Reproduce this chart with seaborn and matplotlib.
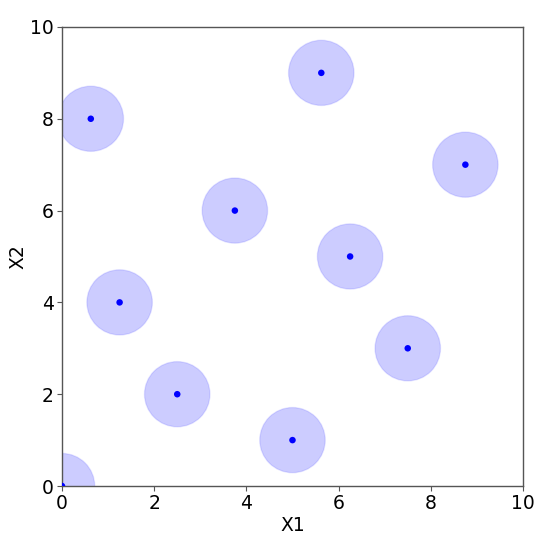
import matplotlib
matplotlib.use("Agg")
import matplotlib.pyplot as plt
import seaborn as sns
import pandas as pd
from matplotlib.patches import Circle

x1 = [0.0, 5.0, 2.5, 7.5, 1.25, 6.25, 3.75, 8.75, 0.625, 5.625]
x2 = [0, 1, 2, 3, 4, 5, 6, 7, 8, 9]
radius = 0.71

sns.set_style("white")
df = pd.DataFrame({"X1": x1, "X2": x2})

fig = plt.figure(figsize=(5.5, 5.39), dpi=100)
ax = fig.add_axes([0.1127, 0.0983, 0.8382, 0.8517])

for a, b in zip(x1, x2):
    ax.add_patch(Circle((a, b), radius, facecolor=(0, 0, 1, 0.2), edgecolor=(0, 0, 1, 0.1), lw=1, zorder=1))

sns.scatterplot(data=df, x="X1", y="X2", ax=ax, color="blue", s=22, edgecolor="none", zorder=3)

ax.set_xlim(0, 10)
ax.set_ylim(0, 10)
ax.set_xticks([0, 2, 4, 6, 8, 10])
ax.set_yticks([0, 2, 4, 6, 8, 10])
ax.tick_params(labelsize=13.5, length=3.5, width=0.8, color="#555555", labelcolor="black",
               pad=2.5, bottom=True, left=True)
ax.set_xlabel("X1", fontsize=13.5, color="black", labelpad=2)
ax.set_ylabel("X2", fontsize=13.5, color="black", labelpad=2)
for s in ax.spines.values():
    s.set_color("#555555")
    s.set_linewidth(1.0)

fig.savefig("out.png", dpi=100)
